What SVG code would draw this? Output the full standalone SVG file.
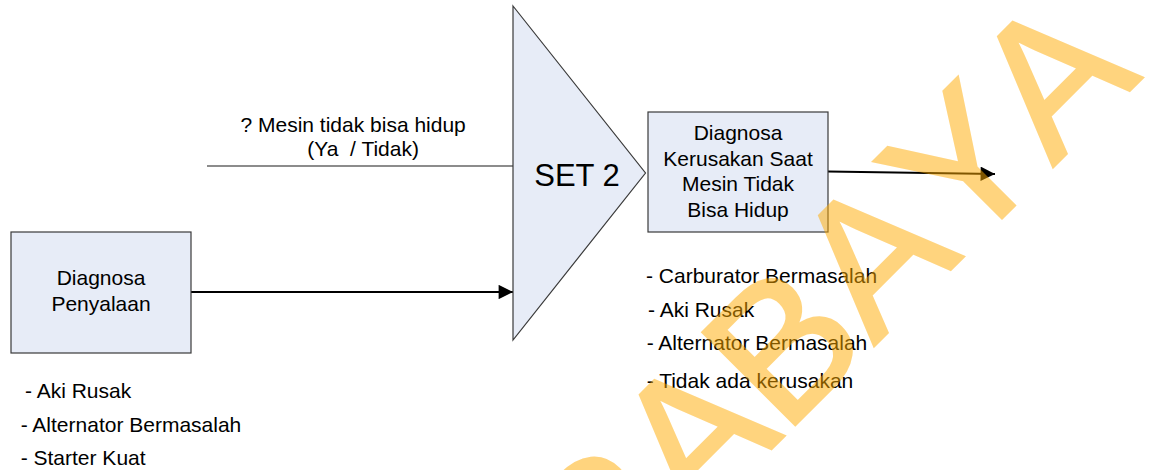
<svg xmlns="http://www.w3.org/2000/svg" width="1159" height="470" viewBox="0 0 1159 470">
  <style>
    .box { fill: #E7ECF7; stroke: #3A3A3A; stroke-width: 1.2; }
    .t { font-family: "Liberation Sans", Arial, sans-serif; font-size: 21px; fill: #000; }
    .c { text-anchor: middle; }
    .pre { white-space: pre; }
    .conn { stroke: #000; stroke-width: 1.8; fill: none; }
    .wm { font-family: "Liberation Sans", Arial, sans-serif; font-size: 190px; font-kerning: none; fill: #FFAB00; stroke: #FFAB00; stroke-width: 3; stroke-linejoin: miter; opacity: 0.5; }
  </style>
  <defs>
    <marker id="arrow" viewBox="0 0 10 10" refX="10" refY="5" markerWidth="9" markerHeight="8" markerUnits="strokeWidth" orient="auto">
      <path d="M0,0 L10,5 L0,10 Z" fill="#000"/>
    </marker>
  </defs>

  <g id="connectors">
    <line x1="207" y1="166" x2="513" y2="166" stroke="#666" stroke-width="1.5"/>
    <line class="conn" x1="191" y1="292" x2="513" y2="292" marker-end="url(#arrow)"/>
    <line class="conn" x1="828" y1="171.5" x2="995" y2="174" marker-end="url(#arrow)"/>
  </g>

  <g id="set2">
    <polygon class="box" points="513,6 645.5,173 513,340"/>
    <text class="t" x="577" y="186" style="font-size:31px" text-anchor="middle">SET 2</text>
  </g>

  <g id="diagnosa-penyalaan">
    <rect class="box" x="11" y="232" width="180" height="121"/>
    <text class="t c" x="101" y="285">Diagnosa</text>
    <text class="t c" x="101" y="311">Penyalaan</text>
  </g>

  <g id="diagnosa-kerusakan">
    <rect class="box" x="648" y="112" width="180" height="120"/>
    <text class="t c" x="738" y="140">Diagnosa</text>
    <text class="t c" x="738" y="165.5">Kerusakan Saat</text>
    <text class="t c" x="738" y="191">Mesin Tidak</text>
    <text class="t c" x="738" y="216.5">Bisa Hidup</text>
  </g>

  <g id="question">
    <text class="t" x="240.5" y="132">? Mesin tidak bisa hidup</text>
    <text class="t pre" x="307.3" y="156">(Ya  / Tidak)</text>
  </g>

  <g id="list-left">
    <text class="t" x="25" y="397.5">- Aki Rusak</text>
    <text class="t" x="20.7" y="431.5">- Alternator Bermasalah</text>
    <text class="t" x="20.7" y="465">- Starter Kuat</text>
  </g>

  <g id="list-right">
    <text class="t" x="646" y="282.5">- Carburator Bermasalah</text>
    <text class="t" x="648" y="316.5">- Aki Rusak</text>
    <text class="t" x="646.7" y="350">- Alternator Bermasalah</text>
    <text class="t" x="646.7" y="387.5">- Tidak ada kerusakan</text>
  </g>

  <g id="watermark">
    <text class="wm" transform="translate(411,809) rotate(-45)">SURABAYA</text>
  </g>
</svg>
